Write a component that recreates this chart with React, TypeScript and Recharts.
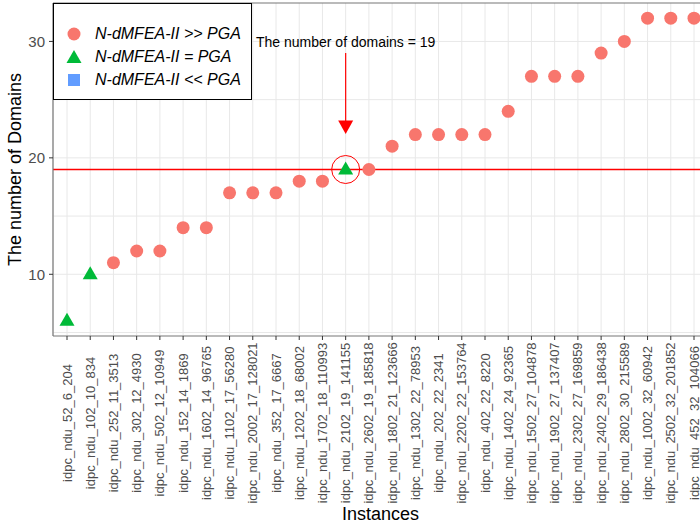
import React from "react";
import {
  ComposedChart,
  Line,
  XAxis,
  YAxis,
  CartesianGrid,
  ReferenceLine,
  ReferenceDot,
} from "recharts";

// instances, sorted by number of domains
const instances = [
  "idpc_ndu_52_6_204",
  "idpc_ndu_102_10_834",
  "idpc_ndu_252_11_3513",
  "idpc_ndu_302_12_4930",
  "idpc_ndu_502_12_10949",
  "idpc_ndu_152_14_1869",
  "idpc_ndu_1602_14_96765",
  "idpc_ndu_1102_17_56280",
  "idpc_ndu_2002_17_128021",
  "idpc_ndu_352_17_6667",
  "idpc_ndu_1202_18_68002",
  "idpc_ndu_1702_18_110993",
  "idpc_ndu_2102_19_141155",
  "idpc_ndu_2602_19_185818",
  "idpc_ndu_1802_21_123666",
  "idpc_ndu_1302_22_78953",
  "idpc_ndu_202_22_2341",
  "idpc_ndu_2202_22_153764",
  "idpc_ndu_402_22_8220",
  "idpc_ndu_1402_24_92365",
  "idpc_ndu_1502_27_104878",
  "idpc_ndu_1902_27_137407",
  "idpc_ndu_2302_27_169859",
  "idpc_ndu_2402_29_186438",
  "idpc_ndu_2802_30_215589",
  "idpc_ndu_1002_32_60942",
  "idpc_ndu_2502_32_201852",
  "idpc_ndu_452_32_104066",
];

const domains = [
  6, 10, 11, 12, 12, 14, 14, 17, 17, 17, 18, 18, 19, 19, 21, 22, 22, 22, 22, 24,
  27, 27, 27, 29, 30, 32, 32, 32,
];

// gt: N-dMFEA-II >> PGA, eq: N-dMFEA-II = PGA, lt: N-dMFEA-II << PGA
const outcome = [
  "eq", "eq", "gt", "gt", "gt", "gt", "gt", "gt", "gt", "gt", "gt", "gt", "eq", "gt",
  "gt", "gt", "gt", "gt", "gt", "gt", "gt", "gt", "gt", "gt", "gt", "gt", "gt", "gt",
];

const groupNames = ["N-dMFEA-II >> PGA", "N-dMFEA-II = PGA", "N-dMFEA-II << PGA"];
const groupKeys = ["gt", "eq", "lt"];
const groupColors = ["#F8766D", "#00BA38", "#619CFF"];

const highlightIndex = 12;
const threshold = 19;

const data = instances.map((name, i) => ({
  name,
  gt: outcome[i] === "gt" ? domains[i] : null,
  eq: outcome[i] === "eq" ? domains[i] : null,
  lt: outcome[i] === "lt" ? domains[i] : null,
}));

const FONT = "'Liberation Sans', Arial, sans-serif";

function Symbol({ kind, x, y, color }: any) {
  if (kind === "eq") {
    return (
      <polygon
        points={`${x},${y - 8} ${x - 7.5},${y + 5} ${x + 7.5},${y + 5}`}
        fill={color}
      />
    );
  }
  if (kind === "lt") {
    return <rect x={x - 6} y={y - 6} width={12} height={12} fill={color} />;
  }
  return <circle cx={x} cy={y} r={6.5} fill={color} />;
}

const makeDot = (kind: string, color: string) => (p: any) => {
  if (p.value == null || p.cy == null) return <g key={p.key} />;
  return (
    <g key={p.key}>
      <Symbol kind={kind} x={p.cx} y={p.cy} color={color} />
    </g>
  );
};

function XTick({ x, y, payload }: any) {
  const cy = y + 81;
  return (
    <text
      x={x}
      y={cy}
      dy="0.35em"
      textAnchor="middle"
      transform={`rotate(-90, ${x}, ${cy})`}
      fontSize={13}
      fill="#4d4d4d"
      fontFamily={FONT}
    >
      {payload.value}
    </text>
  );
}

function YTitle({ viewBox }: any) {
  const cy = viewBox.y + viewBox.height / 2;
  return (
    <text
      x={15}
      y={cy}
      dy="0.35em"
      textAnchor="middle"
      transform={`rotate(-90, 15, ${cy})`}
      fontSize={18}
      fill="#000"
      fontFamily={FONT}
    >
      The number of Domains
    </text>
  );
}

function ArrowHead({ cx, cy }: any) {
  return <polygon points={`${cx},${cy} ${cx - 7.5},${cy - 13.5} ${cx + 7.5},${cy - 13.5}`} fill="#FF0000" />;
}

function Note({ cx, cy }: any) {
  return (
    <text x={cx} y={cy} dy="0.35em" textAnchor="middle" fontSize={14} fill="#000" fontFamily={FONT}>
      The number of domains = {threshold}
    </text>
  );
}

function LegendBox() {
  return (
    <div
      style={{
        position: "absolute",
        left: 53,
        top: 3,
        width: 199,
        height: 97,
        boxSizing: "border-box",
        border: "1.5px solid #000",
        background: "#fff",
        paddingTop: 18,
        paddingLeft: 10,
        fontFamily: FONT,
      }}
    >
      {groupNames.map((name, i) => (
        <div key={name} style={{ display: "flex", alignItems: "center", height: 23 }}>
          <svg width={20} height={20} style={{ flex: "none" }}>
            <Symbol kind={groupKeys[i]} x={10} y={i === 1 ? 11 : 10} color={groupColors[i]} />
          </svg>
          <span style={{ marginLeft: 11, fontSize: 16, fontStyle: "italic", whiteSpace: "nowrap" }}>
            {name}
          </span>
        </div>
      ))}
    </div>
  );
}

export default function App() {
  const hx = instances[highlightIndex];
  return (
    <div
      style={{
        position: "absolute",
        left: 0,
        top: 0,
        width: 700,
        height: 530,
        overflow: "hidden",
        background: "#fff",
      }}
    >
      <ComposedChart
        width={720}
        height={530}
        data={data}
        margin={{ top: 3, right: 12, left: 0, bottom: 0 }}
      >
        <CartesianGrid
          stroke="#e8e8e8"
          horizontalValues={[5, 10, 15, 20, 25, 30]}
        />
        <XAxis
          dataKey="name"
          type="category"
          interval={0}
          height={194}
          padding={{ left: 14, right: 14 }}
          tick={<XTick />}
          tickSize={4}
          tickLine={{ stroke: "#333" }}
          axisLine={{ stroke: "#777", strokeWidth: 1.2 }}
          label={{
            value: "Instances",
            position: "insideBottom",
            offset: 10,
            fontSize: 18,
            fill: "#000",
            fontFamily: FONT,
          }}
        />
        <YAxis
          type="number"
          width={53}
          domain={[4.7, 33.3]}
          allowDataOverflow
          ticks={[10, 20, 30]}
          tickSize={4}
          tickMargin={4}
          tickLine={{ stroke: "#333" }}
          axisLine={{ stroke: "#777", strokeWidth: 1.2 }}
          tick={{ fontSize: 15, fill: "#4d4d4d", fontFamily: FONT }}
          label={<YTitle />}
        />
        <ReferenceLine y={33.3} stroke="#777" strokeWidth={1.2} />
        <ReferenceLine y={threshold} stroke="#FF0000" strokeWidth={1.5} />
        {groupKeys.map((k, i) => (
          <Line
            key={k}
            dataKey={k}
            name={groupNames[i]}
            stroke="none"
            isAnimationActive={false}
            activeDot={false}
            dot={makeDot(k, groupColors[i])}
          />
        ))}
        <ReferenceDot x={hx} y={threshold} r={14} fill="none" stroke="#FF0000" strokeWidth={1} />
        <ReferenceLine
          segment={[
            { x: hx, y: 29.0 },
            { x: hx, y: 23.0 },
          ]}
          stroke="#FF0000"
          strokeWidth={1.2}
        />
        <ReferenceDot x={hx} y={22.05} shape={<ArrowHead />} />
        <ReferenceDot x={hx} y={29.95} shape={<Note />} />
      </ComposedChart>
      <LegendBox />
    </div>
  );
}
